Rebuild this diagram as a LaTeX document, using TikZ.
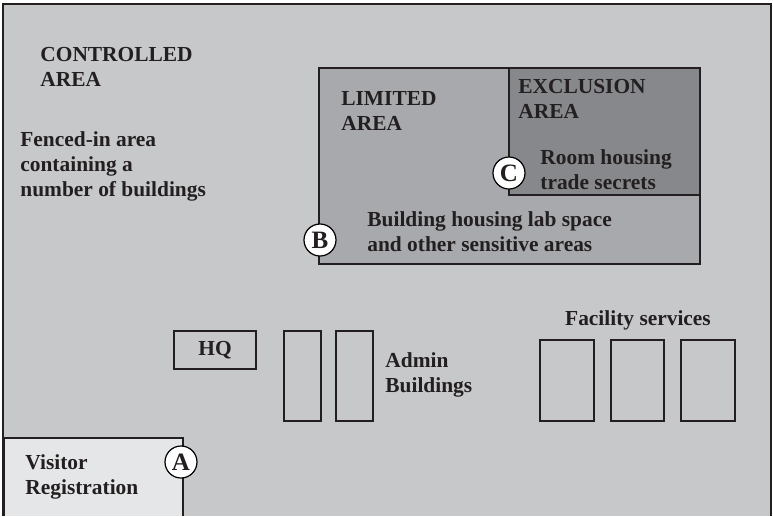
\documentclass[tikz,border=0pt]{standalone}
\usepackage{fontspec}
\setmainfont{Liberation Serif}
\usepackage{xcolor}
\usetikzlibrary{positioning}

\definecolor{ctrlgray}{RGB}{199,200,202}
\definecolor{limgray}{RGB}{168,169,172}
\definecolor{exclgray}{RGB}{135,136,139}
\definecolor{visgray}{RGB}{229,230,231}
\definecolor{inkgray}{RGB}{35,31,32}

\begin{document}
\begin{tikzpicture}[
    x=0.5pt, y=-0.5pt,
    font=\fontsize{10.7}{12.5}\selectfont\bfseries,
    txt/.style={text=inkgray, align=left, anchor=west, inner sep=0pt},
    zone/.style={draw=inkgray, line width=0.6pt},
    bldg/.style={draw=inkgray, line width=0.6pt},
    tag/.style={circle, draw=black, fill=white, line width=0.6pt, minimum size=16pt, inner sep=0pt, text=inkgray, font=\fontsize{12.5}{12.5}\selectfont\bfseries}
]
    \useasboundingbox (0,0) rectangle (773,516);

    % Controlled area
    \fill[ctrlgray] (3,4) rectangle (771,516);
    \draw[inkgray, line width=0.9pt] (3,516) -- (3,4) -- (771,4) -- (771,516);
    \node[txt] (ctrl) at (40,67) {CONTROLLED\\AREA};
    \node[txt] (fence) at (20,166) {Fenced-in area\\containing a\\number of buildings};

    % Limited and exclusion areas
    \fill[limgray] (319,68) rectangle (700,264);
    \draw[zone] (319,68) rectangle (700,264);
    \fill[exclgray] (509,68) rectangle (700,195);
    \draw[zone] (509,195) -- (509,68) -- (700,68) -- (700,195) -- cycle;
    \node[txt] (lim) at (341,111) {LIMITED\\AREA};
    \node[txt] (excl) at (518,99) {EXCLUSION\\AREA};
    \node[txt] (room) at (540,170) {Room housing\\trade secrets};
    \node[txt] (lab) at (367,232) {Building housing lab space\\and other sensitive areas};
    \node[tag] (B) at (320,240) {B};
    \node[tag] (C) at (509,173) {C};

    % Buildings
    \draw[bldg] (174,331) rectangle (256,369);
    \node[text=inkgray] (hq) at (215,350) {HQ};
    \draw[bldg] (284,331) rectangle (321,421);
    \draw[bldg] (336,331) rectangle (373,421);
    \node[txt] (admin) at (385,375) {Admin\\Buildings};
    \node[text=inkgray] (fac) at (638,320) {Facility services};
    \draw[bldg] (540,340) rectangle (594,421);
    \draw[bldg] (611,340) rectangle (664,421);
    \draw[bldg] (681,340) rectangle (735,421);

    % Visitor registration
    \fill[visgray] (4,438) rectangle (183,516);
    \draw[zone] (4,516) -- (4,438) -- (183,438) -- (183,516);
    \node[txt] (vis) at (25,477) {Visitor\\Registration};
    \node[tag] (A) at (181,462) {A};
\end{tikzpicture}
\end{document}
